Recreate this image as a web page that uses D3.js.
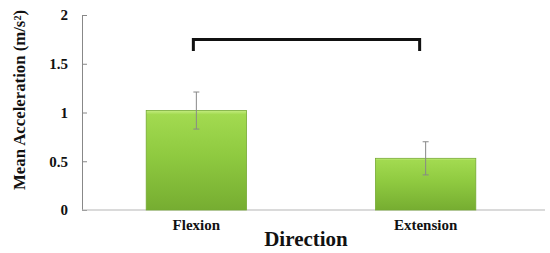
<!DOCTYPE html>
<html>
<head>
<meta charset="utf-8">
<script src="https://cdn.jsdelivr.net/npm/d3@7"></script>
<style>
  body { margin: 0; background: #fff; }
</style>
</head>
<body>
<div id="chart"></div>
<script>
var categories = ['Flexion', 'Extension'];
var means = [1.02, 0.53];
var errors = [0.19, 0.17];
var yTicks = [0, 0.5, 1, 1.5, 2];
var bracketLevel = [1.75, 1.63];

var serif = '"Liberation Serif", "Times New Roman", serif';

var width = 550,
    height = 253,
    margin = { top: 15, right: 10, bottom: 43, left: 82 };

var svg = d3.select('#chart').append('svg')
    .attr('width', width)
    .attr('height', height);

var defs = svg.append('defs');
var grad = defs.append('linearGradient')
    .attr('id', 'barGrad')
    .attr('x1', 0).attr('y1', 0).attr('x2', 0).attr('y2', 1);
grad.append('stop').attr('offset', '0%').attr('stop-color', '#c4ec80');
grad.append('stop').attr('offset', '4%').attr('stop-color', '#a2da50');
grad.append('stop').attr('offset', '45%').attr('stop-color', '#8fca40');
grad.append('stop').attr('offset', '100%').attr('stop-color', '#76ad31');

var yScale = d3.scaleLinear()
    .domain([0, 2])
    .range([height - margin.bottom, margin.top]);

var xScale = d3.scaleBand()
    .domain(categories)
    .range([margin.left, 540])
    .paddingInner(0.5625)
    .paddingOuter(0.28);

// y axis
var yAxis = d3.axisLeft(yScale)
    .tickValues(yTicks)
    .tickSizeInner(-5)
    .tickSizeOuter(0)
    .tickPadding(14)
    .tickFormat(function(d) { return d; });

var yGuide = svg.append('g')
    .attr('transform', 'translate(' + margin.left + ',0)')
    .call(yAxis)
    .attr('font-family', serif);
yGuide.select('.domain').attr('stroke', '#888');
yGuide.selectAll('.tick line').attr('stroke', '#888');
yGuide.selectAll('.tick text')
    .attr('fill', '#111')
    .style('font-family', serif)
    .style('font-size', '15px')
    .style('font-weight', 'bold');

// x baseline
svg.append('line')
    .attr('x1', margin.left).attr('x2', 545)
    .attr('y1', yScale(0)).attr('y2', yScale(0))
    .attr('stroke', '#b5b5b5')
    .attr('stroke-width', 1.2);

// bars
svg.selectAll('rect.bar').data(means)
    .enter().append('rect')
    .attr('class', 'bar')
    .attr('x', function(d, i) { return xScale(categories[i]); })
    .attr('width', xScale.bandwidth())
    .attr('y', function(d) { return yScale(d); })
    .attr('height', function(d) { return yScale(0) - yScale(d); })
    .attr('fill', 'url(#barGrad)')
    .attr('stroke', '#76aa33')
    .attr('stroke-width', 0.8);

// error bars
var eb = svg.selectAll('g.err').data(means)
    .enter().append('g')
    .attr('class', 'err')
    .attr('stroke', '#888')
    .attr('stroke-width', 1);
eb.append('line')
    .attr('x1', function(d, i) { return xScale(categories[i]) + xScale.bandwidth() / 2; })
    .attr('x2', function(d, i) { return xScale(categories[i]) + xScale.bandwidth() / 2; })
    .attr('y1', function(d, i) { return yScale(d + errors[i]); })
    .attr('y2', function(d, i) { return yScale(d - errors[i]); });
eb.selectAll('line.cap').data(function(d, i) {
        return [{ v: d + errors[i], i: i }, { v: d - errors[i], i: i }];
    })
    .enter().append('line')
    .attr('class', 'cap')
    .attr('x1', function(d) { return xScale(categories[d.i]) + xScale.bandwidth() / 2 - 3; })
    .attr('x2', function(d) { return xScale(categories[d.i]) + xScale.bandwidth() / 2 + 3; })
    .attr('y1', function(d) { return yScale(d.v); })
    .attr('y2', function(d) { return yScale(d.v); });

// significance bracket
var bx1 = xScale(categories[0]) + xScale.bandwidth() / 2 - 3,
    bx2 = xScale(categories[1]) + xScale.bandwidth() / 2 - 6;
svg.append('path')
    .attr('d', 'M' + bx1 + ',' + yScale(bracketLevel[1]) +
               'V' + yScale(bracketLevel[0]) +
               'H' + bx2 +
               'V' + yScale(bracketLevel[1]))
    .attr('fill', 'none')
    .attr('stroke', '#111')
    .attr('stroke-width', 3);

// category labels
svg.selectAll('text.cat').data(categories)
    .enter().append('text')
    .attr('class', 'cat')
    .attr('x', function(d) { return xScale(d) + xScale.bandwidth() / 2; })
    .attr('y', 230)
    .attr('text-anchor', 'middle')
    .style('font-family', serif)
    .style('font-size', '15px')
    .style('font-weight', 'bold')
    .attr('fill', '#111')
    .text(function(d) { return d; });

// axis titles
svg.append('text')
    .attr('x', 306)
    .attr('y', 246)
    .attr('text-anchor', 'middle')
    .style('font-family', serif)
    .style('font-size', '21px')
    .style('font-weight', 'bold')
    .attr('fill', '#111')
    .text('Direction');

svg.append('text')
    .attr('transform', 'translate(25,100) rotate(-90)')
    .attr('text-anchor', 'middle')
    .attr('textLength', 180)
    .attr('lengthAdjust', 'spacingAndGlyphs')
    .style('font-family', serif)
    .style('font-size', '16px')
    .style('font-weight', 'bold')
    .attr('fill', '#111')
    .text('Mean Acceleration (m/s²)');
</script>
</body>
</html>
